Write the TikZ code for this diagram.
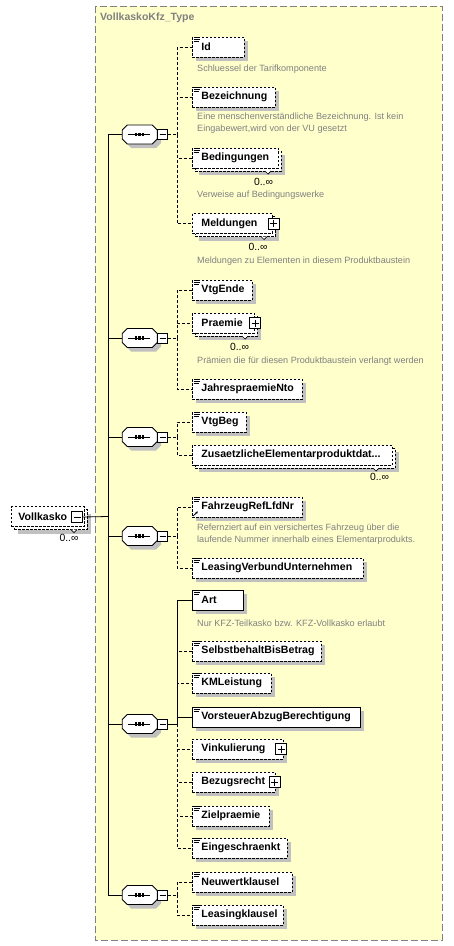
\documentclass[tikz,border=0pt]{standalone}
\usepackage{fontspec}
\setmainfont{Liberation Sans}
\usetikzlibrary{shadows,arrows.meta}
\definecolor{bgyellow}{RGB}{255,255,204}
\definecolor{framegray}{RGB}{128,128,128}
\definecolor{shadowgray}{RGB}{192,192,192}
\definecolor{descgray}{RGB}{128,128,128}
\newcommand\nmfnt{\fontsize{10.6pt}{12pt}\selectfont\bfseries}
\newcommand\descfnt{\fontsize{9.1pt}{11.8pt}\selectfont}
\newcommand\multfnt{\fontsize{10.4pt}{11pt}\selectfont}
\newcommand\elicn[1]{\draw[line width=0.7pt] ([shift={(1.5,0.6)}]#1.north west) -- ++(6,0) ([shift={(1.5,2.6)}]#1.north west) -- ++(6,0) ([shift={(1.5,4.6)}]#1.north west) -- ++(5,0);}
\newcommand\notchmark[2]{\draw[line width=0.7pt, fill=white] (#1-3,#2) -- (#1,#2+3) -- (#1+3,#2);}
\newcommand\seqglyph[3]{%
  \begin{scope}[shift={(#2,#3)}]
    \fill[shadowgray] (-13.5,-5.5) -- (-8.5,-5.5) -- (16.5,-5.5) -- (21.5,-0.5) -- (21.5,8.5) -- (16.5,13.5) -- (-8.5,13.5) -- (-13.5,8.5) -- cycle;
    \draw[fill=white, line width=0.9pt] (-17.5,-4.5) -- (-12.5,-9.5) -- (12.5,-9.5) -- (17.5,-4.5) -- (17.5,4.5) -- (12.5,9.5) -- (-12.5,9.5) -- (-17.5,4.5) -- cycle;
    \draw[line width=0.9pt] (-12,0) -- (10.5,0);
    \fill (-5,-1.7) rectangle (-2.6,1.7);
    \fill (-1.4,-1.7) rectangle (1,1.7);
    \fill (2.2,-1.7) rectangle (4.6,1.7);
    \node[inner sep=0pt, minimum width=35pt, minimum height=19pt] (#1) at (0,0) {};
    \node[pmbox, pmminus] (#1m) at (22.8,0) {};
  \end{scope}}
\begin{document}
\begin{tikzpicture}[x=1pt, y=-1pt,
  elem/.style={fill=white, draw=black, line width=0.9pt, minimum height=20pt, inner sep=0pt, anchor=west, align=left, font=\nmfnt, text=black},
  opt/.style={dash pattern=on 2.5pt off 1.5pt},
  single/.style={drop shadow={shadow xshift=4pt, shadow yshift=-4pt, fill=shadowgray, opacity=1}},
  multi/.style={drop shadow={shadow xshift=7pt, shadow yshift=-7pt, fill=shadowgray, opacity=1},
                copy shadow={shadow xshift=3pt, shadow yshift=-3pt, fill=white, draw=black, opacity=1, line width=0.9pt, dash pattern=on 2.5pt off 1.5pt}},
  pmbox/.style={draw=black, fill=white, line width=0.9pt, minimum size=10pt, inner sep=0pt, rectangle},
  pmminus/.style={path picture={\draw[line width=0.9pt] ([xshift=2pt]path picture bounding box.west) -- ([xshift=-2pt]path picture bounding box.east);}},
  pmplus/.style={path picture={\draw[line width=0.9pt] ([xshift=2pt]path picture bounding box.west) -- ([xshift=-2pt]path picture bounding box.east) ([yshift=-2pt]path picture bounding box.north) -- ([yshift=2pt]path picture bounding box.south);}},
  desc/.style={anchor=west, inner sep=0pt, font=\descfnt, text=descgray, align=left},
  mult/.style={inner sep=0pt, font=\multfnt, text=black},
  conn/.style={line width=0.8pt, black},
  optc/.style={conn, dash pattern=on 3pt off 2pt}
]
\useasboundingbox (0,0) rectangle (453,946);
\fill[white] (0,0) rectangle (453,946);
\draw[framegray, fill=bgyellow, line width=1pt, dash pattern=on 7pt off 3pt] (95,6) rectangle (442,940);
\node[anchor=west, inner sep=0pt, font=\fontsize{10.5pt}{12pt}\selectfont\bfseries, text=framegray] (title) at (100,18) {VollkaskoKfz\_Type};

% root element
\node[elem, opt, multi, text width=73pt] (vk) at (11,516.5) {\hspace*{7pt}Vollkasko};
\node[pmbox, pmminus, minimum size=11pt] (vkm) at (77,517) {};
\notchmark{74}{529.5}
\node[mult] (m0) at (69,538) {0..∞};

% sequences
\seqglyph{s1}{139.7}{134.5}
\seqglyph{s2}{139.7}{338}
\seqglyph{s3}{139.7}{437}
\seqglyph{s4}{139.7}{536}
\seqglyph{s5}{139.7}{724}
\seqglyph{s6}{139.7}{895}

% sequence 1
\node[elem, opt, single, text width=52pt] (id) at (192,47) {\hspace*{9pt}Id};
\elicn{id}
\node[desc] (d1) at (197,69) {Schluessel der Tarifkomponente};
\node[elem, opt, single, text width=83pt] (bez) at (192,97) {\hspace*{9pt}Bezeichnung};
\elicn{bez}
\node[desc] (d2) at (197,123.5) {Eine menschenverständliche Bezeichnung. Ist kein\\Eingabewert,wird von der VU gesetzt};
\node[elem, opt, multi, text width=86pt] (bed) at (192,158) {\hspace*{9pt}Bedingungen};
\elicn{bed}
\notchmark{268}{171}
\node[mult] (m1) at (263.5,181.5) {0..∞};
\node[desc] (d3) at (197,195) {Verweise auf Bedingungswerke};
\node[elem, opt, multi, text width=80pt] (mel) at (192,223.5) {\hspace*{9pt}Meldungen};
\node[pmbox, pmplus, minimum size=11pt] (melp) at (273.5,223.5) {};
\notchmark{264}{236.5}
\node[mult] (m2) at (258,247) {0..∞};
\node[desc] (d4) at (197,261) {Meldungen zu Elementen in diesem Produktbaustein};

% sequence 2
\node[elem, opt, single, text width=60pt] (vte) at (192,290) {\hspace*{9pt}VtgEnde};
\elicn{vte}
\node[elem, opt, multi, text width=62pt] (pra) at (192,323) {\hspace*{9pt}Praemie};
\node[pmbox, pmplus, minimum size=11pt] (prap) at (255,323) {};
\notchmark{245}{336}
\node[mult] (m3) at (239.5,347) {0..∞};
\node[desc] (d5) at (197,361) {Prämien die für diesen Produktbaustein verlangt werden};
\node[elem, opt, single, text width=110pt] (jah) at (192,389) {\hspace*{9pt}JahrespraemieNto};
\elicn{jah}

% sequence 3
\node[elem, opt, single, text width=54pt] (vtb) at (192,422) {\hspace*{9pt}VtgBeg};
\elicn{vtb}
\node[elem, opt, multi, text width=200pt] (zus) at (192,455) {\hspace*{9pt}ZusaetzlicheElementarproduktdat...};
\notchmark{376}{468}
\node[mult] (m4) at (379.5,477) {0..∞};

% sequence 4
\node[elem, opt, single, text width=110pt] (fzr) at (192,507) {\hspace*{9pt}FahrzeugRefLfdNr};
\elicn{fzr}
\draw[line width=0.8pt, -{Stealth[length=2.5pt,width=2.5pt]}] ([shift={(1.2,-1.5)}]fzr.south west) -- ([shift={(5.8,-6)}]fzr.south west);
\node[desc] (d6) at (197,534) {Refernziert auf ein versichertes Fahrzeug über die\\laufende Nummer innerhalb eines Elementarprodukts.};
\node[elem, opt, single, text width=171pt] (lvu) at (192,568) {\hspace*{9pt}LeasingVerbundUnternehmen};
\elicn{lvu}

% sequence 5
\node[elem, single, text width=51pt] (art) at (192,600) {\hspace*{9pt}Art};
\elicn{art}
\node[desc] (d7) at (197,623) {Nur KFZ-Teilkasko bzw. KFZ-Vollkasko erlaubt};
\node[elem, opt, single, text width=129pt] (sbb) at (192,651) {\hspace*{9pt}SelbstbehaltBisBetrag};
\elicn{sbb}
\node[elem, opt, single, text width=79pt] (kml) at (192,683) {\hspace*{9pt}KMLeistung};
\elicn{kml}
\node[elem, single, text width=168pt] (vab) at (192,717) {\hspace*{9pt}VorsteuerAbzugBerechtigung};
\elicn{vab}
\node[elem, opt, single, text width=91pt] (vin) at (192,749) {\hspace*{9pt}Vinkulierung};
\node[pmbox, pmplus, minimum size=11pt] (vinp) at (281,749) {};
\node[elem, opt, single, text width=83pt] (bzr) at (192,782) {\hspace*{9pt}Bezugsrecht};
\node[pmbox, pmplus, minimum size=11pt] (bzrp) at (274.5,782) {};
\node[elem, opt, single, text width=77pt] (zie) at (192,816) {\hspace*{9pt}Zielpraemie};
\elicn{zie}
\node[elem, opt, single, text width=95pt] (ein) at (192,848) {\hspace*{9pt}Eingeschraenkt};
\elicn{ein}

% sequence 6
\node[elem, opt, single, text width=100pt] (neu) at (192,882) {\hspace*{9pt}Neuwertklausel};
\elicn{neu}
\node[elem, opt, single, text width=91pt] (lea) at (192,915) {\hspace*{9pt}Leasingklausel};
\elicn{lea}

% connectors: root to sequences
\coordinate (tr) at (108,516.5);
\draw[conn] (vkm.east) -- (tr);
\foreach \s in {s1,s2,s3,s4,s5,s6} \draw[conn] (tr) |- (\s.west);

% branch points
\coordinate (b1) at (177,134.5);
\coordinate (b2) at (177,338);
\coordinate (b3) at (177,437);
\coordinate (b4) at (177,536);
\coordinate (b5) at (177,724);
\coordinate (b6) at (177,895);

\draw[optc] (s1m.east) -- (b1);
\foreach \c in {id,bez,bed,mel} \draw[optc] (b1) |- (\c.west);
\draw[optc] (s2m.east) -- (b2);
\foreach \c in {vte,pra,jah} \draw[optc] (b2) |- (\c.west);
\draw[optc] (s3m.east) -- (b3);
\foreach \c in {vtb,zus} \draw[optc] (b3) |- (\c.west);
\draw[optc] (s4m.east) -- (b4);
\foreach \c in {fzr,lvu} \draw[optc] (b4) |- (\c.west);
\draw[conn] (s5m.east) -- (b5);
\foreach \c in {sbb,kml,vin,bzr,zie,ein} \draw[optc] (b5) |- (\c.west);
\foreach \c in {art,vab} \draw[conn] (b5) |- (\c.west);
\draw[optc] (s6m.east) -- (b6);
\foreach \c in {neu,lea} \draw[optc] (b6) |- (\c.west);
\end{tikzpicture}
\end{document}
